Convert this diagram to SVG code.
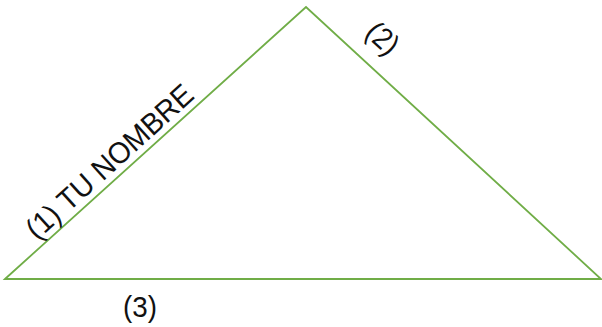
<svg xmlns="http://www.w3.org/2000/svg" width="602" height="327" viewBox="0 0 602 327">
<style>
.edge{fill:none;stroke:#70AD47;stroke-width:1.8;stroke-linejoin:miter}
.lbl{font-family:"Liberation Sans","DejaVu Sans",sans-serif;font-size:30px;fill:#111}
</style>
<rect width="602" height="327" fill="#fff"/>
<g id="connectors">
<polygon class="edge" points="5,279 306,7 601,279"/>
</g>
<g id="label1">
<text class="lbl" font-size="31" transform="translate(37,241) rotate(-42.1)" textLength="214" lengthAdjust="spacingAndGlyphs">(1) TU NOMBRE</text>
</g>
<g id="label2">
<text class="lbl" transform="translate(383,38) rotate(42)" text-anchor="middle" dominant-baseline="central" textLength="33" lengthAdjust="spacingAndGlyphs">(2)</text>
</g>
<g id="label3">
<text class="lbl" x="140" y="317" text-anchor="middle" textLength="34" lengthAdjust="spacingAndGlyphs">(3)</text>
</g>
</svg>
